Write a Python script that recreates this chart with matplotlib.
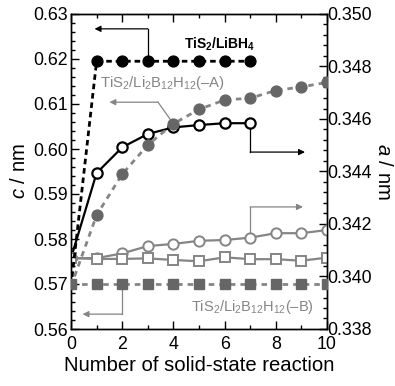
import matplotlib
matplotlib.use("Agg")
import matplotlib.pyplot as plt
from matplotlib.ticker import MultipleLocator, FormatStrFormatter

plt.rcParams['font.family'] = ['Liberation Sans', 'DejaVu Sans']
plt.rcParams['mathtext.fontset'] = 'custom'
plt.rcParams['mathtext.rm'] = 'Liberation Sans'
plt.rcParams['mathtext.it'] = 'Liberation Sans:italic'
plt.rcParams['mathtext.bf'] = 'Liberation Sans:bold'

# ---- data ----
x_libh4_c = [0, 1, 2, 3, 4, 5, 6, 7]
c_libh4 = [0.5695, 0.6195, 0.6195, 0.6195, 0.6195, 0.6195, 0.6195, 0.6195]

x_libh4_a = [0, 1, 2, 3, 4, 5, 6, 7]
a_libh4 = [0.3407, 0.34394, 0.34492, 0.34543, 0.34568, 0.34577, 0.34584, 0.34584]

x_A = [0, 1, 2, 3, 4, 5, 6, 7, 8, 9, 10]
c_A = [0.5695, 0.5853, 0.5944, 0.6009, 0.6056, 0.6088, 0.6109, 0.6113, 0.6130, 0.6138, 0.6148]
a_A = [0.3407, 0.34070, 0.34088, 0.34116, 0.34124, 0.34136, 0.34139, 0.34148, 0.34165, 0.34165, 0.34177]

x_B = [0, 1, 2, 3, 4, 5, 6, 7, 8, 9, 10]
c_B = [0.5700, 0.5700, 0.5700, 0.5700, 0.5700, 0.5700, 0.5700, 0.5700, 0.5700, 0.5700, 0.5700]
a_B = [0.3407, 0.34067, 0.34067, 0.34069, 0.34063, 0.34058, 0.34073, 0.34066, 0.34066, 0.34060, 0.34072]

label_libh4 = r'TiS$_\mathbf{2}$/LiBH$_\mathbf{4}$'
label_A = r'TiS$_2$/Li$_2$B$_{12}$H$_{12}$(–A)'
label_B = r'TiS$_2$/Li$_2$B$_{12}$H$_{12}$(–B)'

GRAY_LINE = '#858585'
GRAY_FILL = '#666666'

fig = plt.figure(figsize=(3.95, 3.86), dpi=100)
ax = fig.add_axes([71/395, 1-329/386, 256/395, 315/386])
ax2 = ax.twinx()

# a-axis series (right)
ax2.plot(x_libh4_a, a_libh4, '-', color='black', lw=1.6, marker='o', ms=7.4,
         mfc='white', mec='black', mew=1.6, zorder=3)
ax2.plot(x_A, a_A, '-', color=GRAY_LINE, lw=1.6, marker='o', ms=7.4,
         mfc='white', mec=GRAY_LINE, mew=1.4, zorder=3)
ax2.plot(x_B, a_B, '-', color=GRAY_LINE, lw=1.6, marker='s', ms=7.2,
         mfc='white', mec=GRAY_LINE, mew=1.4, zorder=4)

# c-axis series (left) on the front axes
ax.set_zorder(ax2.get_zorder() + 1)
ax.patch.set_visible(False)

ax.plot(x_libh4_c, c_libh4, color='black', lw=2.0, ls=(0, (2.0, 1.4)),
        marker='o', ms=7.8, mfc='black', mec='black', zorder=3,
        markevery=list(range(1, len(x_libh4_c))))
ax.plot(x_A, c_A, color=GRAY_LINE, lw=2.0, ls=(0, (2.0, 1.8)),
        marker='o', ms=7.8, mfc=GRAY_FILL, mec=GRAY_FILL, zorder=3,
        markevery=list(range(1, len(x_A))))
ax.plot(x_B, c_B, color=GRAY_LINE, lw=2.0, ls=(0, (2.0, 1.8)),
        marker='s', ms=7.2, mfc=GRAY_FILL, mec=GRAY_FILL, zorder=4)

# axes limits & ticks
ax.set_xlim(0, 10)
ax.set_ylim(0.56, 0.63)
ax2.set_ylim(0.338, 0.350)

ax.xaxis.set_major_locator(MultipleLocator(2))
ax.xaxis.set_minor_locator(MultipleLocator(1))
ax.yaxis.set_major_locator(MultipleLocator(0.01))
ax.yaxis.set_minor_locator(MultipleLocator(0.002))
ax.yaxis.set_major_formatter(FormatStrFormatter('%.2f'))
ax2.yaxis.set_major_locator(MultipleLocator(0.002))
ax2.yaxis.set_minor_locator(MultipleLocator(0.0004))
ax2.yaxis.set_major_formatter(FormatStrFormatter('%.3f'))

ax.tick_params(axis='both', which='both', direction='in', top=True, right=False,
               labelsize=12.8, pad=2.5)
ax.tick_params(which='major', length=6, width=1)
ax.tick_params(which='minor', length=3, width=1)
ax.tick_params(axis='x', pad=5)
ax2.tick_params(axis='y', which='both', direction='in', labelsize=12.8, pad=0.5)
ax2.tick_params(which='major', length=6, width=1)
ax2.tick_params(which='minor', length=3, width=1)

for sp in ax.spines.values():
    sp.set_linewidth(1.0)
for sp in ax2.spines.values():
    sp.set_linewidth(1.0)

ax.set_xlabel('Number of solid-state reaction', fontsize=14.6, labelpad=2)
ax.set_ylabel(r'$c$ / nm', fontsize=14.6, labelpad=3)
ax2.set_ylabel(r'$a$ / nm', fontsize=14.6, rotation=270, labelpad=15)

# annotations
ax.text(5.8, 0.6233, label_libh4, fontsize=10, fontweight='bold', color='black',
        ha='center', va='center')
ax.text(3.57, 0.6147, label_A, fontsize=10.7, color=GRAY_LINE, ha='center', va='center')
ax.text(7.07, 0.5649, label_B, fontsize=10.5, color=GRAY_LINE, ha='center', va='center')

ap_k = dict(arrowstyle='-|>', color='black', lw=0.9, mutation_scale=9, shrinkA=0, shrinkB=0)
ap_g = dict(arrowstyle='-|>', color=GRAY_LINE, lw=0.9, mutation_scale=9, shrinkA=0, shrinkB=0)

# LiBH4 -> left
ax.plot([3, 3], [0.6195, 0.6267], color='black', lw=0.9)
ax.annotate('', xy=(0.92, 0.6267), xytext=(3, 0.6267), arrowprops=ap_k)
# A -> left
ax.plot([4, 3.4], [0.6056, 0.6104], color=GRAY_LINE, lw=0.9)
ax.annotate('', xy=(1.5, 0.6104), xytext=(3.4, 0.6104), arrowprops=ap_g)
# B -> left
ax.plot([2, 2], [0.5700, 0.5633], color=GRAY_LINE, lw=0.9)
ax.annotate('', xy=(0.45, 0.5633), xytext=(2, 0.5633), arrowprops=ap_g)
# LiBH4 a -> right
ax2.plot([7, 7], [0.34584, 0.34474], color='black', lw=0.9)
ax2.annotate('', xy=(9.14, 0.34474), xytext=(7, 0.34474), arrowprops=ap_k)
# A a -> right
ax2.plot([7, 7], [0.34148, 0.34265], color=GRAY_LINE, lw=0.9)
ax2.annotate('', xy=(9.06, 0.34265), xytext=(7, 0.34265), arrowprops=ap_g)

fig.savefig('out.png', dpi=100)
